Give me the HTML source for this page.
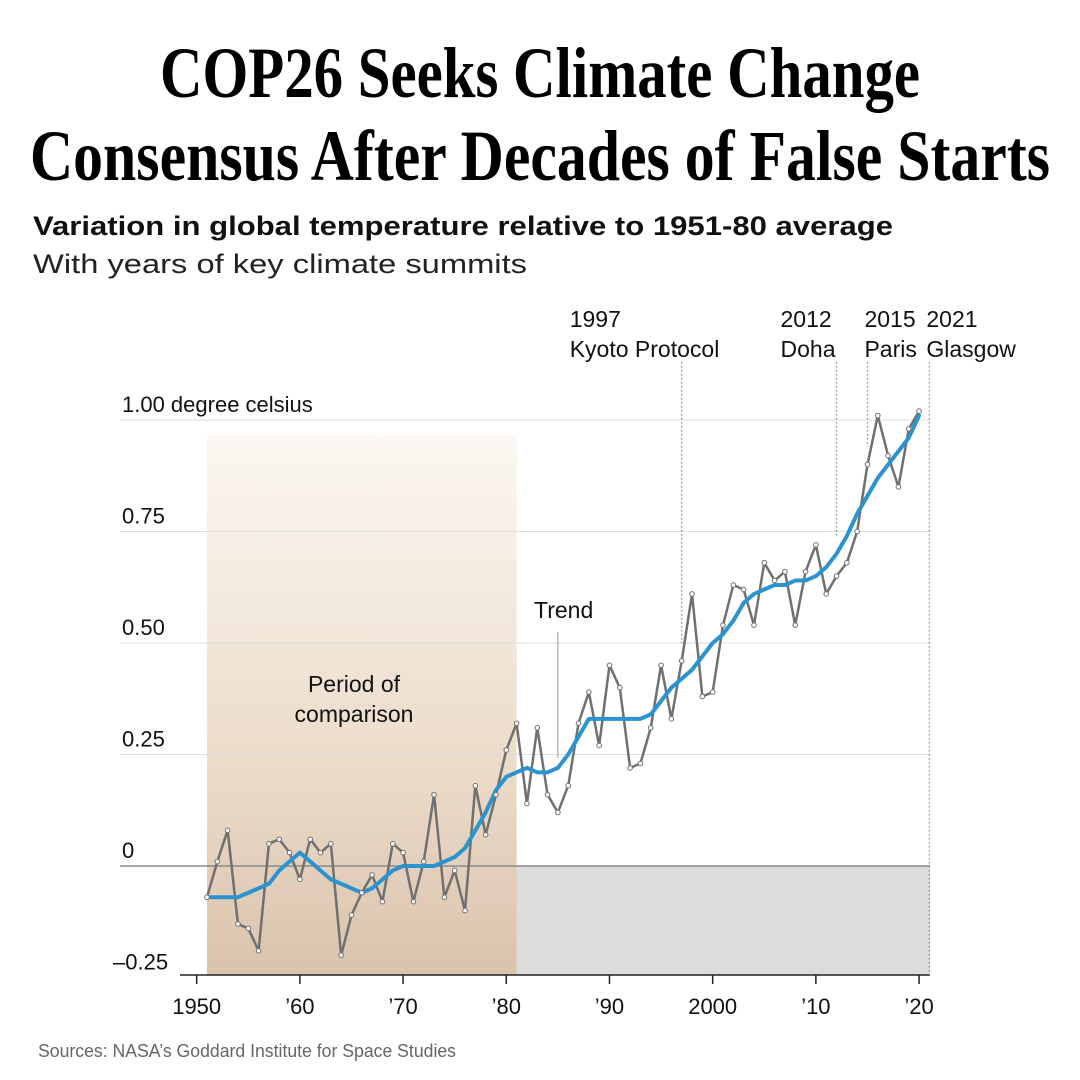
<!DOCTYPE html>
<html><head><meta charset="utf-8"><style>
html,body{margin:0;padding:0;background:#fff;}
svg{display:block;}
text{font-family:"Liberation Sans",sans-serif;}
</style></head><body>
<svg id="chart" width="1080" height="1080" viewBox="0 0 1080 1080" xmlns="http://www.w3.org/2000/svg">
<defs>
<linearGradient id="pg" x1="0" y1="0" x2="0" y2="1">
<stop offset="0" stop-color="#fbf7f2"/><stop offset="0.6" stop-color="#ecdcca"/><stop offset="1" stop-color="#d9c3ad"/>
</linearGradient>
</defs>
<text x="540" y="97" text-anchor="middle" font-weight="bold" font-size="72" textLength="760" lengthAdjust="spacingAndGlyphs" style="font-family:'Liberation Serif',serif">COP26 Seeks Climate Change</text>
<text x="540" y="180" text-anchor="middle" font-weight="bold" font-size="72" textLength="1020" lengthAdjust="spacingAndGlyphs" style="font-family:'Liberation Serif',serif">Consensus After Decades of False Starts</text>
<text x="33" y="235" font-weight="bold" font-size="27" textLength="860" lengthAdjust="spacingAndGlyphs" fill="#111">Variation in global temperature relative to 1951-80 average</text>
<text x="33" y="273" font-size="27" textLength="494" lengthAdjust="spacingAndGlyphs" fill="#222">With years of key climate summits</text>
<g id="plot"></g>
<text x="38" y="1057" font-size="18" fill="#666" textLength="418" lengthAdjust="spacingAndGlyphs">Sources: NASA’s Goddard Institute for Space Studies</text>
</svg>
<script>
const years = [];
for (let y = 1951; y <= 2020; y++) years.push(y);
const anomaly = [-0.07,0.01,0.08,-0.13,-0.14,-0.19,0.05,0.06,0.03,-0.03,0.06,0.03,0.05,-0.20,-0.11,-0.06,-0.02,-0.08,0.05,0.03,-0.08,0.01,0.16,-0.07,-0.01,-0.10,0.18,0.07,0.16,0.26,0.32,0.14,0.31,0.16,0.12,0.18,0.32,0.39,0.27,0.45,0.40,0.22,0.23,0.31,0.45,0.33,0.46,0.61,0.38,0.39,0.54,0.63,0.62,0.54,0.68,0.64,0.66,0.54,0.66,0.72,0.61,0.65,0.68,0.75,0.90,1.01,0.92,0.85,0.98,1.02];
const trend = [-0.07,-0.07,-0.07,-0.07,-0.06,-0.05,-0.04,-0.01,0.01,0.03,0.01,-0.01,-0.03,-0.04,-0.05,-0.06,-0.05,-0.03,-0.01,0.00,0.00,0.00,0.00,0.01,0.02,0.04,0.08,0.12,0.17,0.20,0.21,0.22,0.21,0.21,0.22,0.25,0.29,0.33,0.33,0.33,0.33,0.33,0.33,0.34,0.37,0.40,0.42,0.44,0.47,0.50,0.52,0.55,0.59,0.61,0.62,0.63,0.63,0.64,0.64,0.65,0.67,0.70,0.74,0.79,0.83,0.87,0.90,0.93,0.96,1.01];
const yTicks = [1.00,0.75,0.50,0.25,0,-0.25];
const yTickLabels = ["1.00","0.75","0.50","0.25","0","\u20130.25"];
const xTicks = [1950,1960,1970,1980,1990,2000,2010,2020];
const xTickLabels = ["1950","\u201960","\u201970","\u201980","\u201990","2000","\u201910","\u201920"];
const summitYears = [1997,2012,2015,2021];
const summitYearLabels = ["1997","2012","2015","2021"];
const summitNames = ["Kyoto Protocol","Doha","Paris","Glasgow"];

const X = y => 207 + (y - 1951) * 10.32;
const Y = v => 866 - v * 446;
const NS = "http://www.w3.org/2000/svg";
const g = document.getElementById('plot');
function mk(tag, attrs, parent) {
  const e = document.createElementNS(NS, tag);
  for (const k in attrs) e.setAttribute(k, attrs[k]);
  (parent || g).appendChild(e);
  return e;
}
const bottom = 975, right = 930;
let r = mk('rect', {x: X(1951), y: Y(0), width: right - X(1951), height: bottom - Y(0), fill: '#dcdcdc'});


r = mk('rect', {x: X(1951), y: 435, width: X(1981) - X(1951), height: bottom - 435, fill: 'url(#pg)'});


yTicks.forEach((v, i) => {
  if (v > -0.2) {
    const l = mk('line', {x1: 120, x2: right, y1: Y(v), y2: Y(v), stroke: v === 0 ? '#888' : '#ddd', 'stroke-width': v === 0 ? 1.5 : 1});
    
    
  }
  const t = mk('text', {x: v === -0.25 ? 113 : 122, y: Y(v) - 8, 'font-size': 22, fill: '#111'});
  t.textContent = yTickLabels[i] + (i === 0 ? '  degree celsius' : '');
  
  
});
let ax = mk('line', {x1: 180, x2: right, y1: bottom, y2: bottom, stroke: '#222', 'stroke-width': 1.5});


xTicks.forEach((y, i) => {
  const l = mk('line', {x1: X(y), x2: X(y), y1: bottom, y2: bottom + 9, stroke: '#222', 'stroke-width': 1.5});
  
  
  const t = mk('text', {x: X(y), y: 1014, 'font-size': 22, 'text-anchor': 'middle', fill: '#111'});
  t.textContent = xTickLabels[i];
  
  
});
summitYears.forEach((y, i) => {
  const idx = years.indexOf(y);
  const endY = idx >= 0 ? Y(Math.max(anomaly[idx], trend[idx])) - 18 : bottom;
  const l = mk('line', {x1: X(y), x2: X(y), y1: 362, y2: endY, stroke: '#888', 'stroke-width': 1.3, 'stroke-dasharray': '1.5,2.5'});
  
  
  const tx = i === 0 ? X(y) - 112 : (i === 1 ? X(y) - 56 : X(y) - 3);
  const t1 = mk('text', {x: tx, y: 327, 'font-size': 23, fill: '#111'});
  t1.textContent = summitYearLabels[i];
  
  
  const t2 = mk('text', {x: tx, y: 357, 'font-size': 23, fill: '#111'});
  t2.textContent = summitNames[i];
  
  
});
let t = mk('text', {x: 354, y: 692, 'font-size': 23, 'text-anchor': 'middle', fill: '#111'});
t.textContent = 'Period of';


t = mk('text', {x: 354, y: 722, 'font-size': 23, 'text-anchor': 'middle', fill: '#111'});
t.textContent = 'comparison';


t = mk('text', {x: 534, y: 618, 'font-size': 23, fill: '#111'});
t.textContent = 'Trend';


let tl = mk('line', {x1: X(1985), x2: X(1985), y1: 632, y2: Y(trend[34]) - 10, stroke: '#999', 'stroke-width': 1});


const annualPts = years.map((y, i) => X(y) + ',' + Y(anomaly[i])).join(' ');
let pl = mk('polyline', {points: annualPts, fill: 'none', stroke: '#707070', 'stroke-width': 2.5, 'stroke-linejoin': 'round'});


const trendPts = years.map((y, i) => X(y) + ',' + Y(trend[i])).join(' ');
pl = mk('polyline', {points: trendPts, fill: 'none', stroke: '#2a93d0', 'stroke-width': 4, 'stroke-linejoin': 'round', 'stroke-linecap': 'round'});


years.forEach((y, i) => {
  const c = mk('circle', {cx: X(y), cy: Y(anomaly[i]), r: 2.3, fill: '#fff', stroke: '#707070', 'stroke-width': 1});
  
  
});
</script>
</body></html>
